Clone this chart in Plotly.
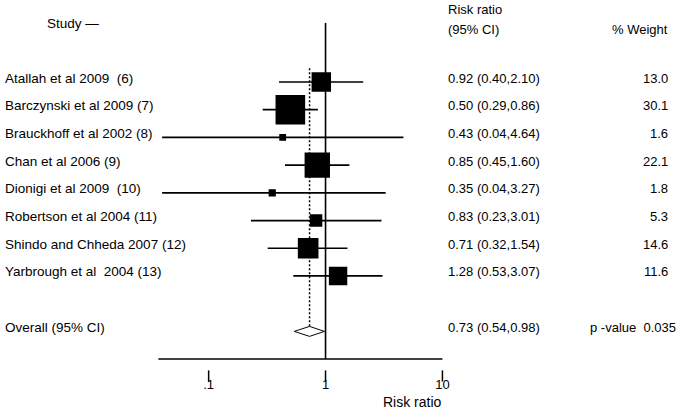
import numpy as np
import plotly.graph_objects as go

# ---------------- data ----------------
studies = [
    "Atallah et al 2009  (6)",
    "Barczynski et al 2009 (7)",
    "Brauckhoff et al 2002 (8)",
    "Chan et al 2006 (9)",
    "Dionigi et al 2009  (10)",
    "Robertson et al 2004 (11)",
    "Shindo and Chheda 2007 (12)",
    "Yarbrough et al  2004 (13)",
]
rr = [0.92, 0.50, 0.43, 0.85, 0.35, 0.83, 0.71, 1.28]
ci_low = [0.40, 0.29, 0.04, 0.45, 0.04, 0.23, 0.32, 0.53]
ci_high = [2.10, 0.86, 4.64, 1.60, 3.27, 3.01, 1.54, 3.07]
weights = [13.0, 30.1, 1.6, 22.1, 1.8, 5.3, 14.6, 11.6]

overall_label = "Overall (95% CI)"
overall_rr = 0.73
overall_low = 0.54
overall_high = 0.98
p_value = "0.035"
null_rr = 1

tick_vals = [0.1, 1, 10]
tick_text = [".1", "1", "10"]
x_title = "Risk ratio"

# ---------------- geometry / style ----------------
W, H = 686, 411
FONT = "Arial"
FS = 13
FS_NAME = 13.5
ROW_PX = 27.71
FIRST_ROW_PX = 82
AXIS_PX = 359
TICK_PX = 376
NULL_TOP_PX = 23
plot_left, plot_right = 160, 447

rows = list(range(1, len(studies) + 1))
overall_row = len(studies) + 2


def py(px):  # paper y from pixel
    return 1 - px / H


def px_x(px):
    return px / W


def row_of(px):
    return 1 + (px - FIRST_ROW_PX) / ROW_PX


fig = go.Figure()

# CI lines
xs, ys = [], []
for r, lo, hi in zip(rows, ci_low, ci_high):
    xs += [lo, hi, None]
    ys += [r, r, None]
fig.add_trace(go.Scatter(x=xs, y=ys, mode="lines",
                         line=dict(color="black", width=1.7),
                         hoverinfo="skip", showlegend=False))

# squares (area proportional to weight)
sizes = [5.4 * np.sqrt(w) for w in weights]
fig.add_trace(go.Scatter(x=rr, y=rows, mode="markers",
                         marker=dict(symbol="square", size=sizes, color="black",
                                     opacity=1, line=dict(width=0)),
                         showlegend=False))

# diamond for pooled estimate
dh = 0.18
fig.add_trace(go.Scatter(
    x=[overall_low, overall_rr, overall_high, overall_rr, overall_low],
    y=[overall_row, overall_row - dh, overall_row, overall_row + dh, overall_row],
    mode="lines", fill="toself", fillcolor="white",
    line=dict(color="black", width=1), showlegend=False))

# dashed line at pooled estimate
fig.add_trace(go.Scatter(x=[overall_rr, overall_rr],
                         y=[rows[0] - 0.5, overall_row - dh],
                         mode="lines", line=dict(color="black", width=1.5, dash="2px,2px"),
                         showlegend=False))

# detached tick marks (Stata style) at the tick values
fig.add_trace(go.Scatter(x=tick_vals, y=[row_of(TICK_PX)] * len(tick_vals),
                         mode="markers", cliponaxis=False,
                         marker=dict(symbol="line-ns-open", size=8, color="black",
                                     line=dict(color="black", width=1.5)),
                         hoverinfo="skip", showlegend=False))

shapes = [
    # null line
    dict(type="line", xref="x", yref="y", x0=null_rr, x1=null_rr,
         y0=row_of(NULL_TOP_PX), y1=row_of(AXIS_PX), line=dict(color="black", width=1.6)),
    # axis line
    dict(type="line", xref="x domain", yref="y", x0=0, x1=1,
         y0=row_of(AXIS_PX), y1=row_of(AXIS_PX),
         line=dict(color="black", width=1.6)),
]

ann = []
font = dict(family=FONT, size=FS, color="black")
font_name = dict(family=FONT, size=FS_NAME, color="black")
for r, s, v, lo, hi, w in zip(rows, studies, rr, ci_low, ci_high, weights):
    ann.append(dict(x=px_x(3), xref="paper", y=r, yref="y", yshift=4, text=s,
                    xanchor="left", yanchor="middle", showarrow=False, font=font_name))
    ann.append(dict(x=px_x(451), xref="paper", y=r, yref="y", yshift=4,
                    text=f"{v:.2f} ({lo:.2f},{hi:.2f})",
                    xanchor="left", yanchor="middle", showarrow=False, font=font))
    ann.append(dict(x=px_x(677), xref="paper", y=r, yref="y", yshift=4,
                    text=f"{w:.1f}", xanchor="right", yanchor="middle",
                    showarrow=False, font=font))
ann.append(dict(x=px_x(3), xref="paper", y=overall_row, yref="y", yshift=4,
                text=overall_label, xanchor="left", yanchor="middle",
                showarrow=False, font=font_name))
ann.append(dict(x=px_x(451), xref="paper", y=overall_row, yref="y", yshift=4,
                text=f"{overall_rr:.2f} ({overall_low:.2f},{overall_high:.2f})",
                xanchor="left", yanchor="middle", showarrow=False, font=font))
ann.append(dict(x=px_x(685), xref="paper", y=overall_row, yref="y", yshift=4,
                text=f"p -value  {p_value}", xanchor="right", yanchor="middle",
                showarrow=False, font=font))

# headers
ann.append(dict(x=px_x(45), xref="paper", y=py(23), yref="paper", text="Study \u2014",
                xanchor="left", yanchor="middle", showarrow=False, font=font_name))
ann.append(dict(x=px_x(451), xref="paper", y=py(10), yref="paper", text="Risk ratio",
                xanchor="left", yanchor="middle", showarrow=False, font=font))
ann.append(dict(x=px_x(451), xref="paper", y=py(29), yref="paper", text="(95% CI)",
                xanchor="left", yanchor="middle", showarrow=False, font=font))
ann.append(dict(x=px_x(677), xref="paper", y=py(29), yref="paper", text="% Weight",
                xanchor="right", yanchor="middle", showarrow=False, font=font))
# axis title
ann.append(dict(x=1, xref="x domain", y=py(402), yref="paper", text=x_title,
                xanchor="right", yanchor="middle", xshift=2, showarrow=False,
                font=dict(family=FONT, size=14, color="black")))

fig.update_layout(
    width=W, height=H, autosize=False,
    margin=dict(l=0, r=0, t=0, b=0),
    paper_bgcolor="white", plot_bgcolor="white",
    font=font,
    showlegend=False,
    shapes=shapes,
    annotations=ann,
    xaxis=dict(type="log", range=[-1.43, 1.0],
               domain=[px_x(plot_left), px_x(plot_right)],
               anchor="free", position=py(370),
               showline=False, showgrid=False, zeroline=False,
               ticks="", ticklabelstandoff=5,
               tickvals=tick_vals, ticktext=tick_text,
               tickfont=dict(family=FONT, size=FS, color="black")),
    yaxis=dict(range=[row_of(H), row_of(0)], domain=[0, 1],
               visible=False, showgrid=False, zeroline=False),
)

fig.write_html("out.html",
               config={"displayModeBar": False, "responsive": False},
               post_script="document.body.style.margin='0';document.body.style.overflow='hidden';")
